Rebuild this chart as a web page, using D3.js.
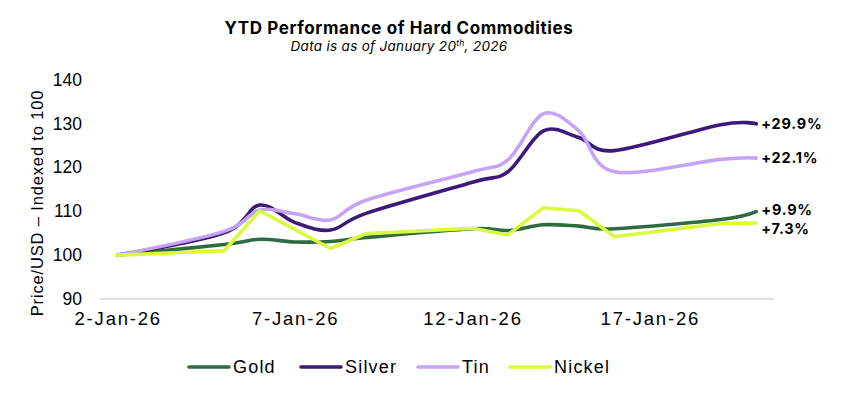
<!DOCTYPE html>
<html>
<head>
    <title>YTD Performance of Hard Commodities</title>
    <script src="https://d3js.org/d3.v7.min.js"></script>
    <style>
        body {
            margin: 0;
            background: #fff;
        }
        text {
            font-family: Inter, "Liberation Sans", sans-serif;
        }
    </style>
</head>
<body>
    <svg id="chart" width="856" height="398"></svg>
    <script>
        // trading days, values indexed to 100 on 2-Jan-26
        const dates = ['2026-01-02', '2026-01-05', '2026-01-06', '2026-01-07', '2026-01-08', '2026-01-09',
            '2026-01-12', '2026-01-13', '2026-01-14', '2026-01-15', '2026-01-16', '2026-01-19', '2026-01-20'];
        const gold = [100, 102.4, 103.6, 103.0, 103.1, 104.0, 106.0, 105.6, 106.9, 106.6, 106.0, 108.1, 109.9];
        const silver = [100, 105.1, 111.4, 107.4, 105.7, 109.5, 116.6, 119.0, 128.3, 126.8, 123.8, 129.7, 129.9];
        const tin = [100, 105.4, 110.3, 109.4, 108.0, 112.5, 119.0, 121.7, 132.2, 128.3, 119.0, 121.8, 122.1];
        const nickel = [100, 101.0, 110.1, 105.8, 101.5, 104.9, 106.1, 104.6, 110.8, 110.1, 104.2, 107.2, 107.3];
        const xTicks = ['2026-01-02', '2026-01-07', '2026-01-12', '2026-01-17'];
        const yTicks = [90, 100, 110, 120, 130, 140];

        const series = [
            { name: 'Gold', values: gold, color: '#2e6b43', smooth: true, labelDy: -1.5 },
            { name: 'Silver', values: silver, color: '#3b1a7a', smooth: true, labelDy: 0 },
            { name: 'Tin', values: tin, color: '#c4a3f8', smooth: true, labelDy: 0 },
            { name: 'Nickel', values: nickel, color: '#d9fa3e', smooth: false, labelDy: 5.5 }
        ];

        const svg = d3.select('#chart');
        const parse = d3.utcParse('%Y-%m-%d');
        const dayMs = 864e5;
        const axisFont = '"Liberation Sans", Arial, sans-serif';

        const x = d3.scaleUtc()
            .domain([new Date(parse(dates[0]).getTime() - dayMs / 2),
                     new Date(parse(dates[dates.length - 1]).getTime() + dayMs / 2)])
            .range([100, 774]);

        const y = d3.scaleLinear()
            .domain([90, 140])
            .range([299, 79.5]);

        // title
        svg.append('text')
            .attr('x', 399).attr('y', 34)
            .attr('text-anchor', 'middle')
            .style('font-size', '17px').style('font-weight', 700)
            .style('letter-spacing', '0.6px')
            .text('YTD Performance of Hard Commodities');

        const sub = svg.append('text')
            .attr('x', 399).attr('y', 51)
            .attr('text-anchor', 'middle')
            .style('font-size', '13.5px').style('font-style', 'italic')
            .style('letter-spacing', '0.3px');
        sub.append('tspan').text('Data is as of January 20');
        sub.append('tspan').attr('dy', -5).style('font-size', '8.5px').text('th');
        sub.append('tspan').attr('dy', 5).text(', 2026');

        // baseline
        svg.append('line')
            .attr('x1', x.range()[0]).attr('x2', x.range()[1])
            .attr('y1', y(90)).attr('y2', y(90))
            .attr('stroke', '#d9d9d9').attr('stroke-width', 1.3);

        // y axis
        const yAxis = svg.append('g')
            .attr('transform', 'translate(82,0)')
            .call(d3.axisLeft(y).tickValues(yTicks).tickSize(0).tickPadding(0));
        yAxis.select('.domain').remove();
        yAxis.selectAll('text')
            .style('font-family', axisFont)
            .style('font-size', '17.5px').attr('fill', '#000');

        svg.append('text')
            .attr('transform', 'translate(43,' + 203 + ') rotate(-90)')
            .attr('text-anchor', 'middle')
            .style('font-family', axisFont)
            .style('font-size', '16.5px')
            .style('letter-spacing', '0.85px')
            .text('Price/USD \u2013 Indexed to 100');

        // x axis
        const xAxis = svg.append('g')
            .attr('transform', 'translate(0,' + y(90) + ')')
            .call(d3.axisBottom(x)
                .tickValues(xTicks.map(parse))
                .tickFormat(d3.utcFormat('%-d-%b-%y'))
                .tickSize(0).tickPadding(13));
        xAxis.select('.domain').remove();
        xAxis.selectAll('text')
            .style('font-family', axisFont)
            .style('font-size', '18.5px')
            .style('letter-spacing', '1.8px')
            .attr('fill', '#000');

        // lines
        series.forEach(s => {
            const line = d3.line()
                .x((d, i) => x(parse(dates[i])))
                .y(d => y(d))
                .curve(s.smooth ? d3.curveCardinal.tension(0) : d3.curveLinear);
            svg.append('path')
                .datum(s.values)
                .attr('d', line)
                .attr('fill', 'none')
                .attr('stroke', s.color)
                .attr('stroke-width', 3.6)
                .attr('stroke-linejoin', 'round')
                .attr('stroke-linecap', 'round');
        });

        // end labels
        const lastX = x(parse(dates[dates.length - 1]));
        series.forEach(s => {
            const last = s.values[s.values.length - 1];
            svg.append('text')
                .attr('x', lastX + 5)
                .attr('y', y(last) + s.labelDy)
                .attr('dy', '0.35em')
                .style('font-size', '14.5px').style('font-weight', 700)
                .style('letter-spacing', '0.8px')
                .text('+' + d3.format('.1f')(last - 100) + '%');
        });

        // legend
        const legendX = [189, 301, 418, 510];
        series.forEach((s, i) => {
            const g = svg.append('g').attr('transform', 'translate(' + legendX[i] + ',367)');
            g.append('line')
                .attr('x1', 0).attr('x2', 40)
                .attr('stroke', s.color).attr('stroke-width', 3.6)
                .attr('stroke-linecap', 'round');
            g.append('text')
                .attr('x', 44).attr('dy', '0.35em')
                .style('font-family', axisFont)
                .style('font-size', '18px')
                .style('letter-spacing', '1.2px')
                .text(s.name);
        });
    </script>
</body>
</html>
